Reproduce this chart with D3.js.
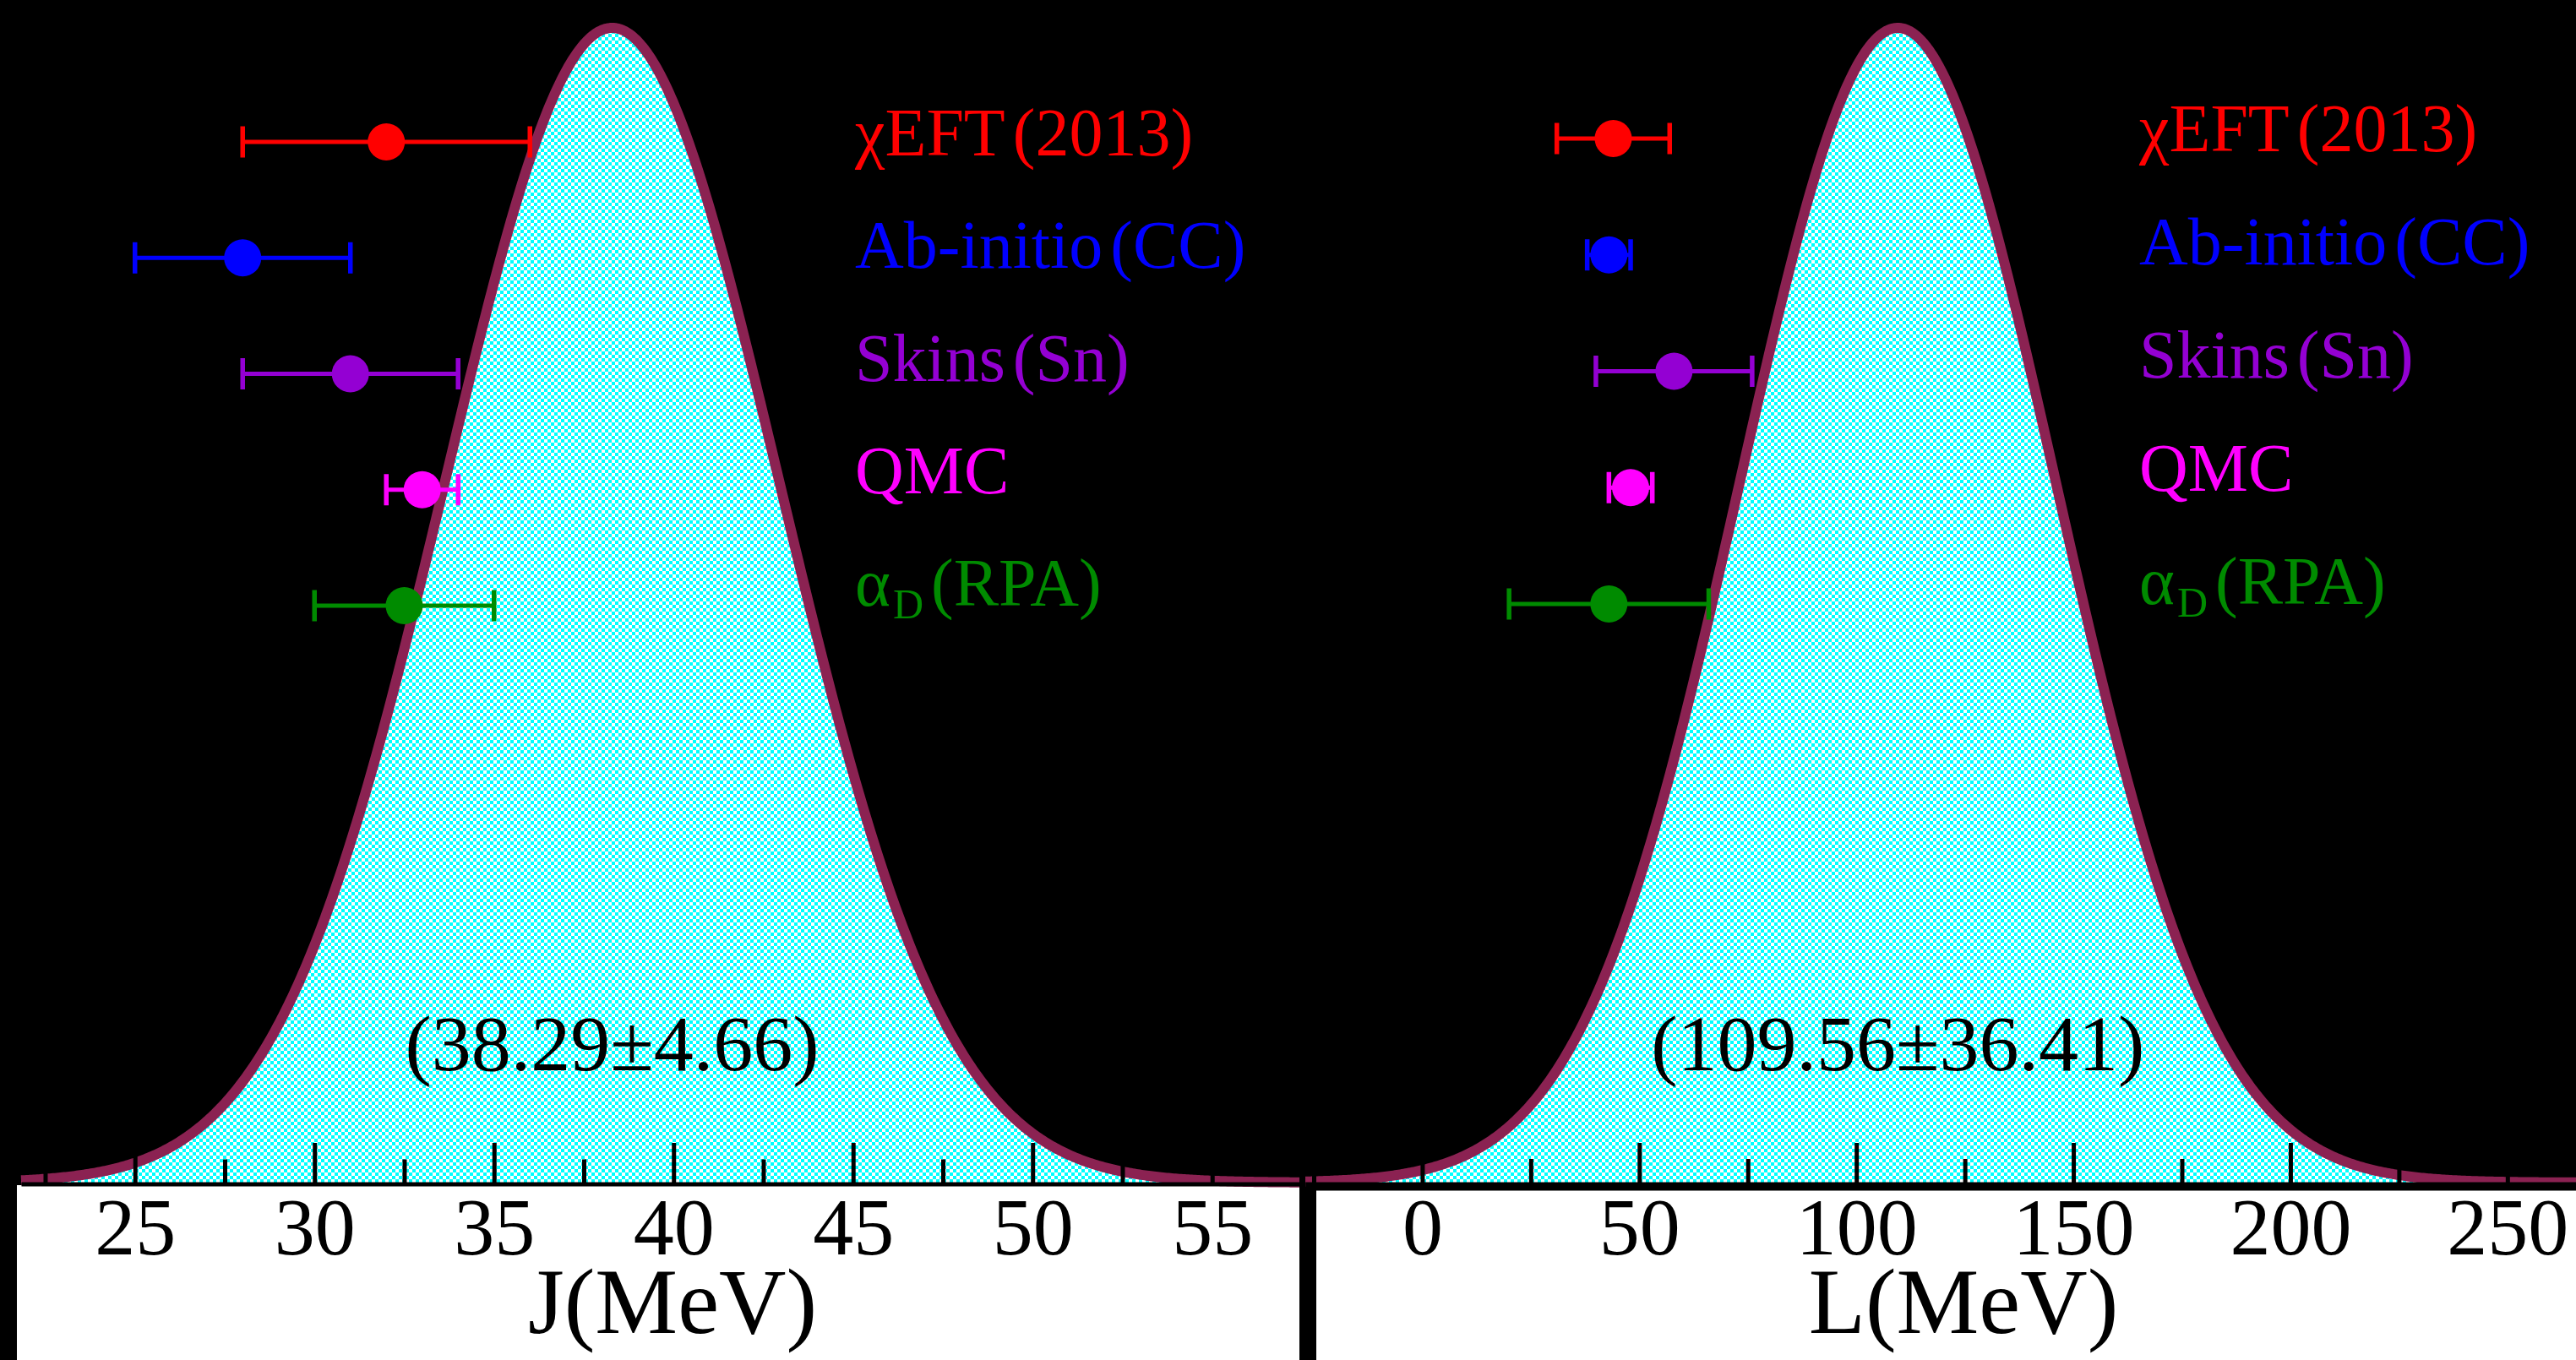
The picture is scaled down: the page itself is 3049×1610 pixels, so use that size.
<!DOCTYPE html>
<html>
<head>
<meta charset="utf-8">
<script src="https://cdn.jsdelivr.net/npm/d3@7"></script>
<style>
  html, body { margin: 0; padding: 0; background: #000; }
  svg { display: block; }
  text { font-family: "Liberation Serif", "Times New Roman", serif; }
</style>
</head>
<body>
<svg id="chart" width="3049" height="1610"></svg>
<script>
// ---- data -------------------------------------------------------------
// method labels: main text, subscript, bracketed tag
const labelMain = ["χEFT", "Ab-initio", "Skins", "QMC", "α"];
const labelSub  = ["", "", "", "", "D"];
const labelTag  = ["(2013)", "(CC)", "(Sn)", "", "(RPA)"];
const methodColors = ["#ff0000", "#0000ff", "#9400d3", "#ff00ff", "#008b00"];

// symmetry energy J (MeV): central value and lower/upper limits
const jCentral = [32, 28, 31, 33, 32.5];
const jLow     = [28, 25, 28, 32, 30];
const jHigh    = [36, 31, 34, 34, 35];

// slope parameter L (MeV)
const lCentral = [44, 43, 58, 48, 43];
const lLow     = [31, 38, 40, 43, 20];
const lHigh    = [57, 48, 76, 53, 66];

// Gaussian distributions (mean, standard deviation)
const jMean = 38.29, jSigma = 4.66;
const lMean = 109.56, lSigma = 36.41;

// axis ticks
const jMajorTicks = [25, 30, 35, 40, 45, 50, 55];
const jMinorTicks = [22.5, 27.5, 32.5, 37.5, 42.5, 47.5, 52.5];
const lMajorTicks = [0, 50, 100, 150, 200, 250];
const lMinorTicks = [-25, 25, 75, 125, 175, 225];

const jTitle = "J(MeV)";
const lTitle = "L(MeV)";

// ---- drawing ----------------------------------------------------------
const svg = d3.select("#chart");
const defs = svg.append("defs");

// cyan / white checker fill
const pat = defs.append("pattern")
  .attr("id", "checker")
  .attr("patternUnits", "userSpaceOnUse")
  .attr("width", 8).attr("height", 8);
pat.append("rect").attr("width", 8).attr("height", 8).attr("fill", "#ffffff")
  .attr("shape-rendering", "crispEdges");
pat.append("rect").attr("width", 4).attr("height", 4).attr("fill", "#00ffff")
  .attr("shape-rendering", "crispEdges");
pat.append("rect").attr("x", 4).attr("y", 4).attr("width", 4).attr("height", 4)
  .attr("fill", "#00ffff").attr("shape-rendering", "crispEdges");

const panels = [
  {
    id: "J",
    domain: [21.83, 57.43], range: [25, 1538],
    clip: [20, 1556],
    white: [20, 1403, 1518, 207],
    axisY: 1401.5, axisStroke: 5, majorLen: 48.5, minorLen: 29, pad: 15.5,
    baseY: 1400, peakY: 33,
    mean: jMean, sigma: jSigma,
    central: jCentral, low: jLow, high: jHigh,
    major: jMajorTicks, minor: jMinorTicks,
    rows: [168, 717],
    legendX: 1012, legendY0: 184, legendStep: 133.3,
    title: jTitle, titleX: 796,
    step: 0.05
  },
  {
    id: "L",
    domain: [-27, 265.8], range: [1544.7, 3049],
    clip: [1545, 3049],
    white: [1558, 1405, 1491, 205],
    axisY: 1404, axisStroke: 10, majorLen: 51, minorLen: 32, pad: 13,
    baseY: 1400, peakY: 33,
    mean: lMean, sigma: lSigma,
    central: lCentral, low: lLow, high: lHigh,
    major: lMajorTicks, minor: lMinorTicks,
    rows: [164, 715],
    legendX: 2532, legendY0: 179, legendStep: 134,
    title: lTitle, titleX: 2324,
    step: 0.4
  }
];

panels.forEach(p => {
  const x = d3.scaleLinear().domain(p.domain).range(p.range);
  const y = d3.scaleLinear().domain([0, 1]).range([p.baseY, p.peakY]);
  const row = d3.scalePoint().domain(d3.range(labelMain.length)).range(p.rows);

  // white strip under the axis
  svg.append("rect")
    .attr("x", p.white[0]).attr("y", p.white[1])
    .attr("width", p.white[2]).attr("height", p.white[3])
    .attr("fill", "#ffffff");

  // Gaussian curve
  defs.append("clipPath").attr("id", "clip" + p.id)
    .append("rect")
    .attr("x", p.clip[0]).attr("y", 0)
    .attr("width", p.clip[1] - p.clip[0]).attr("height", p.baseY + 8);

  const xs = d3.range(p.domain[0], p.domain[1] + p.step, p.step);
  const pts = xs.map(v => [v, Math.exp(-0.5 * Math.pow((v - p.mean) / p.sigma, 2))]);

  const g = svg.append("g").attr("clip-path", `url(#clip${p.id})`);
  g.append("path")
    .datum(pts)
    .attr("fill", "url(#checker)")
    .attr("d", d3.area().x(d => x(d[0])).y0(y(0)).y1(d => y(d[1])));
  g.append("path")
    .datum(pts)
    .attr("fill", "none")
    .attr("stroke", "#8b2252")
    .attr("stroke-width", 12)
    .attr("stroke-linejoin", "round")
    .attr("d", d3.line().x(d => x(d[0])).y(d => y(d[1])));

  // minor ticks
  const minorAxis = d3.axisBottom(x).tickValues(p.minor)
    .tickSize(-p.minorLen).tickSizeOuter(0).tickFormat("");
  const gMinor = svg.append("g").attr("transform", `translate(0,${p.axisY})`).call(minorAxis);
  gMinor.select(".domain").remove();
  gMinor.selectAll(".tick line").attr("stroke", "#000").attr("stroke-width", 5);

  // major ticks, labels and axis line
  const majorAxis = d3.axisBottom(x).tickValues(p.major)
    .tickSize(-p.majorLen).tickSizeOuter(0).tickPadding(p.pad)
    .tickFormat(d3.format("d"));
  const gMajor = svg.append("g").attr("transform", `translate(0,${p.axisY})`).call(majorAxis);
  gMajor.select(".domain").attr("stroke", "#000").attr("stroke-width", p.axisStroke);
  gMajor.selectAll(".tick line").attr("stroke", "#000").attr("stroke-width", 5);
  gMajor.selectAll(".tick text")
    .attr("fill", "#000")
    .style("font-family", '"Liberation Serif", "Times New Roman", serif')
    .style("font-size", "96px");

  // axis title
  svg.append("text")
    .attr("x", p.titleX).attr("y", 1578)
    .attr("text-anchor", "middle")
    .attr("fill", "#000")
    .style("font-size", "110px")
    .text(p.title);

  // error bars
  const eb = svg.append("g").selectAll("g").data(labelMain).join("g")
    .attr("transform", (d, i) => `translate(0,${row(i)})`);
  eb.append("line")
    .attr("x1", (d, i) => x(p.low[i])).attr("x2", (d, i) => x(p.high[i]))
    .attr("stroke", (d, i) => methodColors[i]).attr("stroke-width", 5);
  eb.append("line")
    .attr("x1", (d, i) => x(p.low[i])).attr("x2", (d, i) => x(p.low[i]))
    .attr("y1", -18.5).attr("y2", 18.5)
    .attr("stroke", (d, i) => methodColors[i]).attr("stroke-width", 5.5);
  eb.append("line")
    .attr("x1", (d, i) => x(p.high[i])).attr("x2", (d, i) => x(p.high[i]))
    .attr("y1", -18.5).attr("y2", 18.5)
    .attr("stroke", (d, i) => methodColors[i]).attr("stroke-width", 5.5);
  eb.append("ellipse")
    .attr("cx", (d, i) => x(p.central[i]))
    .attr("rx", 22).attr("ry", 22)
    .attr("fill", (d, i) => methodColors[i]);

  // legend
  labelMain.forEach((m, i) => {
    const t = svg.append("text")
      .attr("x", p.legendX).attr("y", p.legendY0 + i * p.legendStep)
      .attr("fill", methodColors[i])
      .style("font-size", "80px");
    t.append("tspan").text(m);
    let shift = 0;
    if (labelSub[i]) {
      t.append("tspan").attr("dx", 3).attr("dy", 15).style("font-size", "50px").text(labelSub[i]);
      shift = -15;
    }
    if (labelTag[i]) {
      t.append("tspan").attr("dx", 9).attr("dy", shift).text(labelTag[i]);
    }
  });

  // mean ± sigma annotation
  svg.append("text")
    .attr("x", x(p.mean)).attr("y", 1267)
    .attr("text-anchor", "middle")
    .attr("fill", "#000")
    .style("font-size", "94px")
    .text(`(${p.mean.toFixed(2)}±${p.sigma.toFixed(2)})`);
});
</script>
</body>
</html>
